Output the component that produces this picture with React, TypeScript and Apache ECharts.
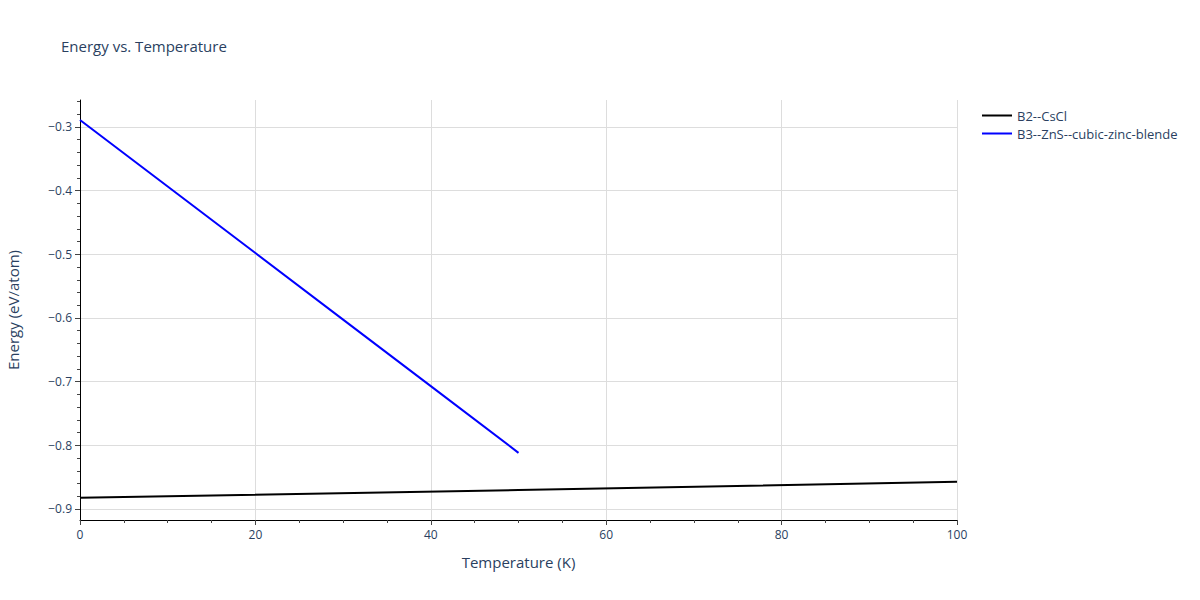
import React, { useEffect, useRef } from "react";
import * as echarts from "echarts";

const title = "Energy vs. Temperature";
const xName = "Temperature (K)";
const yName = "Energy (eV/atom)";
const seriesNames = ["B2--CsCl", "B3--ZnS--cubic-zinc-blende"];
const b2Temps = [0, 50, 100];
const b2Energy = [-0.8824, -0.8702, -0.8573];
const b3Temps = [0, 10, 20, 30, 40, 50];
const b3Energy = [-0.289, -0.3935, -0.498, -0.6025, -0.707, -0.8118];
const yMajor = [-0.9, -0.8, -0.7, -0.6, -0.5, -0.4, -0.3];
const yMinor = [-0.88, -0.86, -0.84, -0.82, -0.78, -0.76, -0.74, -0.72, -0.68, -0.66, -0.64, -0.62, -0.58, -0.56, -0.54, -0.52, -0.48, -0.46, -0.44, -0.42, -0.38, -0.36, -0.34, -0.32, -0.28, -0.26];

export default function App() {
  const ref = useRef<HTMLDivElement>(null);
  useEffect(() => {
    document.body.style.margin = "0";
    const chart = echarts.init(ref.current!, null, { renderer: "svg" });
    const font = "'Open Sans', 'Noto Sans', sans-serif";
    const grid = { left: 80, right: 243, top: 100, bottom: 80, containLabel: false, outerBoundsMode: "none" };
    chart.setOption({
      animation: false,
      backgroundColor: "#fff",
      textStyle: { fontFamily: font },
      title: {
        text: title,
        left: 56,
        top: 33,
        textStyle: { fontSize: 15, fontWeight: "normal", color: "#2a3f5f", fontFamily: font },
      },
      legend: {
        orient: "vertical",
        left: 977,
        top: 104,
        itemWidth: 30,
        itemHeight: 2,
        itemGap: 5,
        textStyle: { fontSize: 13, color: "#2a3f5f", fontFamily: font },
        data: seriesNames.map((n) => ({ name: n, icon: "rect" })),
      },
      grid,
      xAxis: {
        type: "value",
        min: 0,
        max: 100,
        interval: 20,
        name: xName,
        nameLocation: "middle",
        nameGap: 34,
        nameTextStyle: { fontSize: 15, color: "#2a3f5f" },
        axisLine: { show: true, lineStyle: { color: "#000", width: 1 } },
        axisTick: { show: true, length: 5, lineStyle: { color: "#444" } },
        minorTick: { show: true, splitNumber: 4, length: 3, lineStyle: { color: "#444" } },
        axisLabel: { fontSize: 12, color: "#2a3f5f", margin: 8 },
        splitLine: { show: true, lineStyle: { color: "#dddddd", width: 1 } },
      },
      yAxis: [
        {
          type: "value",
          min: -0.9173,
          max: -0.2576,
          name: yName,
          nameLocation: "middle",
          nameGap: 60,
          nameTextStyle: { fontSize: 15, color: "#2a3f5f" },
          axisLine: { show: true, lineStyle: { color: "#000", width: 1 } },
          axisTick: { show: true, length: 5, customValues: yMajor, lineStyle: { color: "#444" } },
          axisLabel: {
            fontSize: 12,
            color: "#2a3f5f",
            margin: 8,
            customValues: yMajor,
            formatter: (v: number) => (v < 0 ? "\u2212" + Math.abs(v).toFixed(1) : v.toFixed(1)),
          },
          splitLine: { show: true, lineStyle: { color: "#dddddd", width: 1 } },
        },
        {
          type: "value",
          min: -0.9173,
          max: -0.2576,
          position: "left",
          axisLine: { show: false },
          axisTick: { show: true, length: 3, customValues: yMinor, lineStyle: { color: "#444" } },
          axisLabel: { show: false },
          splitLine: { show: false },
        },
      ],
      series: [
        {
          name: seriesNames[0],
          type: "line",
          data: b2Temps.map((t, i) => [t, b2Energy[i]]),
          symbol: "none",
          lineStyle: { color: "#000", width: 2 },
          itemStyle: { color: "#000" },
        },
        {
          name: seriesNames[1],
          type: "line",
          data: b3Temps.map((t, i) => [t, b3Energy[i]]),
          symbol: "none",
          lineStyle: { color: "#0000ff", width: 2 },
          itemStyle: { color: "#0000ff" },
        },
      ],
    });
    return () => chart.dispose();
  }, []);
  return <div ref={ref} style={{ width: 1200, height: 600 }} />;
}
